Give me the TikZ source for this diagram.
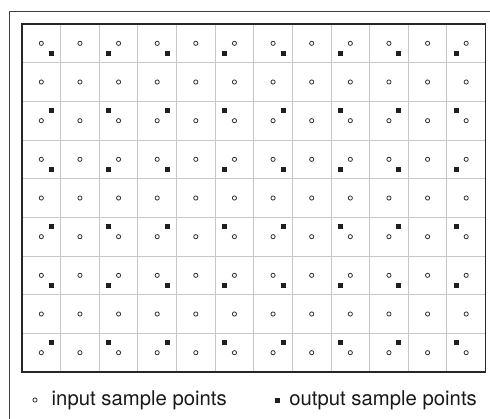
\documentclass[tikz,border=0pt]{standalone}
\usepackage{fontspec}
\setmainfont{TeX Gyre Heros}
\begin{document}
\begin{tikzpicture}[x=1pt,y=-1pt,
  gridline/.style={draw=black!22,line width=0.9pt},
  frameline/.style={draw=black!75,line width=1pt},
  borderline/.style={draw=black!85,line width=1.8pt},
  inpt/.style={circle,draw=black!80,line width=0.8pt,minimum size=4.2pt,inner sep=0pt},
  outpt/.style={rectangle,fill=black!88,minimum size=5pt,inner sep=0pt},
  legendtext/.style={font=\fontsize{20.3}{24}\selectfont,inner sep=0pt,text=black!90}]
\useasboundingbox (0,0) rectangle (490,418);
\clip (0,0) rectangle (490,418);
\draw[frameline] (9,11) rectangle (520,450);
\foreach \i in {1,...,11} \draw[gridline] ({22+\i*38.625},24) -- ({22+\i*38.625},372);
\foreach \j in {1,...,8} \draw[gridline] (22,{24+\j*38.667}) -- (485.5,{24+\j*38.667});
\draw[borderline] (22,24) rectangle (485.5,372);
\foreach \c in {0,...,11} {
  \foreach \r in {0,...,8} {
    \pgfmathsetmacro\ptx{22+(\c+0.5)*38.625}
    \pgfmathsetmacro\pty{24+(\r+0.5)*38.667}
    \node[inpt] (in-\c-\r) at (\ptx,\pty) {};
    \pgfmathtruncatemacro\cmod{mod(\c,3)}
    \pgfmathtruncatemacro\rmod{mod(\r,3)}
    \ifnum\cmod=1\relax\else\ifnum\rmod=1\relax\else
      \pgfmathsetmacro\ddx{\cmod==0 ? 10 : -10}
      \pgfmathsetmacro\ddy{\rmod==0 ? 10 : -10}
      \node[outpt] (out-\c-\r) at ({\ptx+\ddx},{\pty+\ddy}) {};
    \fi\fi
  }
}
\node[inpt] (leg-in) at (35,400) {};
\node[legendtext,anchor=base west] (leg-in-txt) at (51.5,405.5) {input sample points};
\node[legendtext,anchor=base east] (leg-out-txt) at (477,405.5) {output sample points};
\path (leg-out-txt.west |- leg-in) ++(-12,0) node[outpt] (leg-out) {};
\end{tikzpicture}
\end{document}
